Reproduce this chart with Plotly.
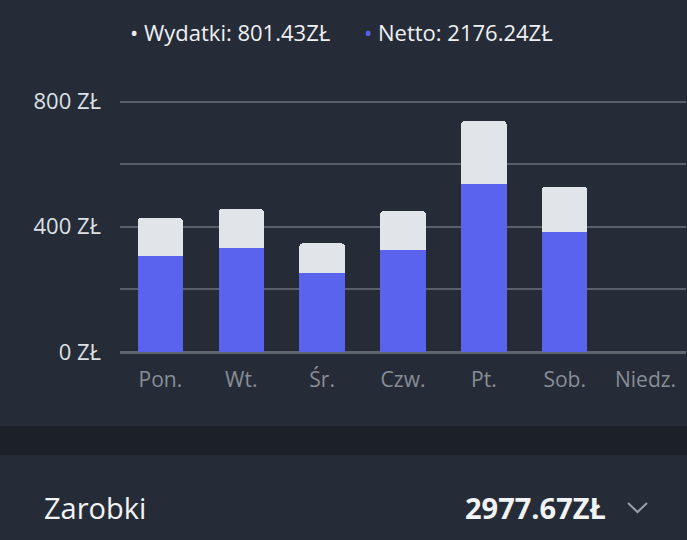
import plotly.graph_objects as go

days = ["Pon.", "Wt.", "Śr.", "Czw.", "Pt.", "Sob.", "Niedz."]
netto = [308, 332, 251, 325, 536, 384, 0]
wydatki = [120, 125, 96, 126, 202, 144, 0]
tick_vals = [0, 200, 400, 600, 800]
tick_text = ["0 ZŁ", "", "400 ZŁ", "", "800 ZŁ"]
legend_wydatki = "Wydatki: 801.43ZŁ"
legend_netto = "Netto: 2176.24ZŁ"
total_label = "Zarobki"
total_value = "2977.67ZŁ"

BG = "#262c37"
BLUE = "#5a63ee"
LIGHT = "#e1e5ea"
FONT = "Open Sans"

W, H = 687, 540
L, R, T, B = 120, 1, 89, 188
pw = W - L - R
ph = H - T - B

def px(x):
    return (x - L) / pw

def py(y):
    return (H - B - y) / ph

fig = go.Figure()
fig.add_trace(go.Bar(x=days, y=netto, marker=dict(color=BLUE, line=dict(width=0)), name="Netto"))
fig.add_trace(go.Bar(x=days, y=wydatki, marker=dict(color=LIGHT, line=dict(width=0)), name="Wydatki"))

shapes = [
    dict(type="rect", xref="paper", yref="paper", x0=-0.3, x1=1.1, y0=py(455), y1=py(426),
         fillcolor="#1c2028", line=dict(width=0), layer="below"),
    dict(type="path", xref="paper", yref="paper",
         path=f"M {px(628)} {py(503)} L {px(637.5)} {py(512)} L {px(647)} {py(503)}",
         line=dict(color="#9aa0a8", width=2)),
]

annotations = [
    dict(xref="paper", yref="paper", x=px(128), y=py(32), xanchor="left", yanchor="middle",
         text=f"<span style='color:#e8eaee'>•</span> {legend_wydatki}", showarrow=False,
         font=dict(family=FONT, size=22, color="#eef0f3")),
    dict(xref="paper", yref="paper", x=px(362), y=py(32), xanchor="left", yanchor="middle",
         text=f"<span style='color:{BLUE}'>•</span> {legend_netto}", showarrow=False,
         font=dict(family=FONT, size=22, color="#eef0f3")),
    dict(xref="paper", yref="paper", x=px(42), y=py(507), xanchor="left", yanchor="middle",
         text=total_label, showarrow=False, font=dict(family=FONT, size=29, color="#f2f3f5")),
    dict(xref="paper", yref="paper", x=px(608), y=py(507), xanchor="right", yanchor="middle",
         text=f"<b>{total_value}</b>", showarrow=False, font=dict(family=FONT, size=29, color="#f2f3f5")),
]

fig.update_layout(
    width=W, height=H,
    margin=dict(l=L, r=R, t=T, b=B),
    paper_bgcolor=BG, plot_bgcolor=BG,
    barmode="stack", bargap=0.437, barcornerradius=4,
    showlegend=False,
    shapes=shapes, annotations=annotations,
    font=dict(family=FONT),
    xaxis=dict(range=[-0.5, 6.5], showgrid=False, zeroline=False, showline=False,
               tickfont=dict(family=FONT, size=21, color="#878d96"), ticks="", ticklabelstandoff=13),
    yaxis=dict(range=[0, 840], tickvals=tick_vals, ticktext=tick_text, showgrid=True,
               gridcolor="#59606a", gridwidth=1.5, zeroline=True, zerolinecolor="#5f666d", zerolinewidth=3,
               showline=False, ticks="", tickfont=dict(family=FONT, size=22, color="#dde0e4"),
               ticklabelstandoff=18),
)

fig.write_html("out.html", config={"displayModeBar": False},
               post_script="document.body.style.margin='0';document.body.style.background='#262c37';")
